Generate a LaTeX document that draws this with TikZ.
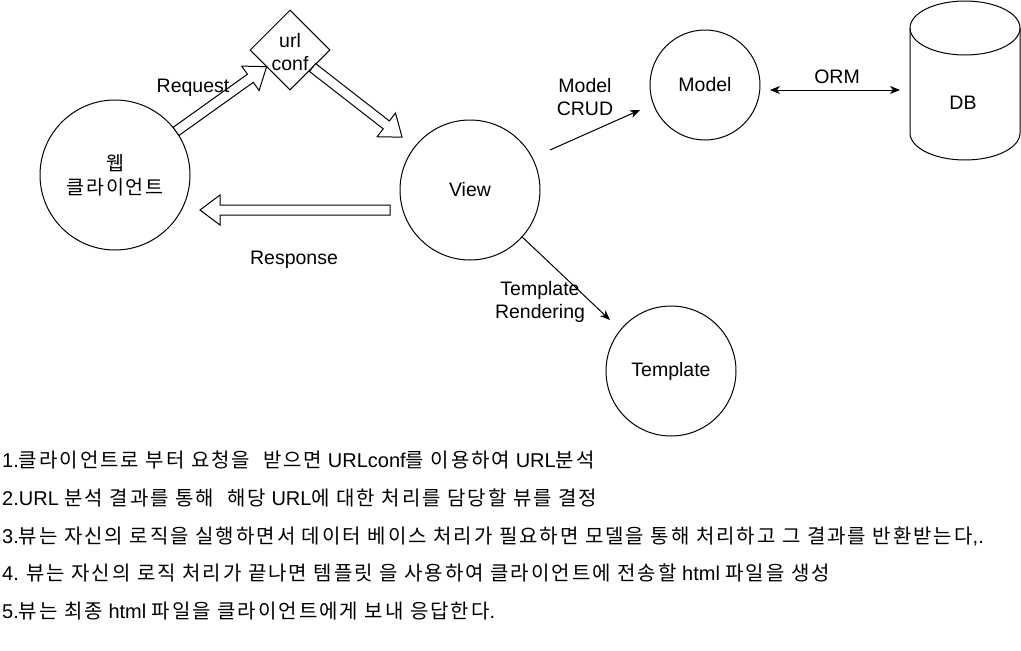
\documentclass[tikz,border=0pt]{standalone}
\usepackage{fontspec}
\setmainfont{Liberation Sans}
\newfontfamily\kr[LetterSpace=10]{Noto Sans CJK KR}
\usetikzlibrary{calc,arrows.meta,shapes.geometric}

\tikzset{
  lbl/.style={font=\fontsize{19.5}{23}\selectfont, align=center, inner sep=0pt},
  circ/.style={circle, draw, line width=1pt, minimum size=#1, inner sep=0pt, lbl},
  conn/.style={line width=1pt, -{Stealth[length=10pt,width=8pt,inset=3pt]}},
  biconn/.style={line width=1pt, {Stealth[length=10pt,width=8pt,inset=3pt]}-{Stealth[length=10pt,width=8pt,inset=3pt]}},
  hollow/.style={draw, line width=1pt, fill=white, line join=miter},
  note/.style={anchor=base west, inner sep=0pt, font=\fontsize{20}{24}\selectfont}
}

% hollow block arrow from coordinate #1 to coordinate #2 (tip)
\newcommand\hollowarrow[3]{%
  \coordinate (#3-h) at ($(#2)!20pt!(#1)$);
  \path[hollow]
    ($(#1)!5pt!90:(#2)$) --
    ($(#3-h)!5pt!-90:(#1)$) --
    ($(#3-h)!15pt!-90:(#1)$) --
    (#2) --
    ($(#3-h)!15pt!90:(#1)$) --
    ($(#3-h)!5pt!90:(#1)$) --
    ($(#1)!5pt!-90:(#2)$) -- cycle;
}

\begin{document}
\begin{tikzpicture}[x=1pt,y=-1pt]
\useasboundingbox (0,0) rectangle (1021,651);

% nodes
\node[circ=150pt] (client) at (115,175) {{\kr 웹}\\[1pt]{\kr 클라이언트}};
\node[circ=140pt] (view) at (470,190) {View};
\node[circ=110pt] (model) at (705,85) {Model};
\node[circ=130pt] (template) at (671,371) {Template};
\node[diamond, draw, line width=1pt, minimum width=80pt, minimum height=80pt, inner sep=0pt] (urlconf) at (290,50) {};
\node[lbl] (urlconftext) at (290,52) {url\\conf};

% database cylinder
\draw[line width=1pt] (910,28) -- (910,133) arc[start angle=180, end angle=0, x radius=55, y radius=27] -- (1020,28);
\draw[line width=1pt] (965,28) ellipse[x radius=55, y radius=27];
\node[lbl] (db) at (963,103) {DB};

% hollow arrows
\coordinate (reqS) at ($(client)!75pt!(urlconf)$);
\coordinate (reqE) at ($(urlconf)!28.7pt!(client)$);
\hollowarrow{reqS}{reqE}{req}

\coordinate (toViewS) at ($(urlconf)!28.5pt!(view)$);
\coordinate (toViewE) at ($(urlconf)!142pt!(view)$);
\hollowarrow{toViewS}{toViewE}{tov}

\coordinate (respS) at (390,210);
\coordinate (respE) at (200,210);
\hollowarrow{respS}{respE}{resp}

% thin connectors
\coordinate (crudS) at (550,150);
\coordinate (crudE) at (640,110);
\draw[conn] (crudS) -- (crudE);

\coordinate (ormS) at (770,90);
\coordinate (ormE) at (900,90);
\draw[biconn] (ormS) -- (ormE);

\coordinate (tmplE) at (610,320);
\draw[conn] (view.-42.7) -- (tmplE);

% labels
\node[lbl] (reqlbl) at (193,88) {Request};
\node[lbl] (resplbl) at (294,260) {Response};
\node[lbl] (crudlbl) at (585,97) {Model\\CRUD};
\node[lbl] (ormlbl) at (837,77) {ORM};
\node[lbl] (tmpllbl) at (540,302) {Template\\Rendering};

% notes
\node[note] (n1) at (2,467) {1.{\kr 클라이언트로 부터 요청을\ \ 받으면} URLconf{\kr 를 이용하여} URL{\kr 분석}};
\node[note] (n2) at (2,505) {2.URL {\kr 분석 결과를 통해\ \ 해당} URL{\kr 에 대한 처리를 담당할 뷰를 결정}};
\node[note] (n3) at (2,543) {3.{\kr 뷰는 자신의 로직을 실행하면서 데이터 베이스 처리가 필요하면 모델을 통해 처리하고 그 결과를 반환받는다},.};
\node[note] (n4) at (2,580) {4. {\kr 뷰는 자신의 로직 처리가 끝나면 템플릿 을 사용하여 클라이언트에 전송할} html {\kr 파일을 생성}};
\node[note] (n5) at (2,618) {5.{\kr 뷰는 최종} html {\kr 파일을 클라이언트에게 보내 응답한다}.};
\end{tikzpicture}
\end{document}
